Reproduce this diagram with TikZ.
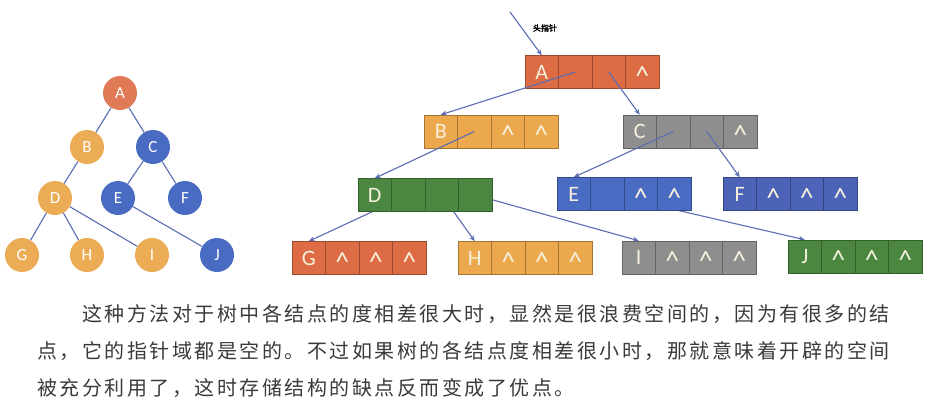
\documentclass[tikz,border=0pt]{standalone}
\usepackage{fontspec}
\usetikzlibrary{arrows.meta}
\usetikzlibrary{backgrounds}

\newfontfamily\cellfont{Carlito}
\newfontfamily\cjk[LetterSpace=12.5]{Noto Sans CJK SC}
\newfontfamily\cjkhead[FakeBold=2]{Noto Sans CJK SC}

\definecolor{rustred}{HTML}{DD6B43}
\definecolor{amber}{HTML}{EBA84C}
\definecolor{slate}{HTML}{8E8E8E}
\definecolor{leaf}{HTML}{4B8740}
\definecolor{ocean}{HTML}{4A6BC2}
\definecolor{indigo}{HTML}{4D63B8}
\definecolor{linkblue}{HTML}{5A6CB4}
\definecolor{cream}{HTML}{F6F0DC}
\definecolor{inkgray}{HTML}{3A3A3A}

\tikzset{
  cell/.style={rectangle, fill=#1, draw=#1!70!black, line width=0.5pt,
    minimum width=33.5pt, minimum height=33pt, inner sep=0pt,
    text height=14pt, text depth=0pt,
    text=cream, font=\cellfont\fontsize{22}{22}\selectfont},
  treenode/.style={circle, fill=#1, minimum size=34pt, inner sep=0pt,
    text=white, font=\cellfont\fontsize{17}{17}\selectfont},
  edge/.style={draw=linkblue, line width=1.1pt},
  ptr/.style={draw=linkblue, line width=1.1pt, -{Stealth[length=6pt,width=5pt]}},
  para/.style={anchor=base west, inner sep=0pt, text=inkgray,
    font=\cjk\fontsize{20}{20}\selectfont},
}

% empty pointer field
\newcommand\emptyptr{\raisebox{-6pt}{\fontsize{28}{28}\selectfont\textasciicircum}}

% one linked record: name, left edge, centre y, colour, four fields
\newcommand\listrec[5]{%
  \foreach \f [count=\k] in {#5}
    \node[cell=#4] (#1\k) at ({#2+(\k-0.5)*33.5}, #3) {\f};
}

\begin{document}
\begin{tikzpicture}[x=1pt, y=-1pt]
\useasboundingbox (0,0) rectangle (936,402);

% the tree
\node[treenode={rustred!90!white}] (ta) at (120,93) {A};
\node[treenode={amber!95!white}] (tb) at (87,147) {B};
\node[treenode=ocean] (tc) at (153,147) {C};
\node[treenode={amber!95!white}] (td) at (55,198) {D};
\node[treenode=ocean] (te) at (118,198) {E};
\node[treenode=ocean] (tf) at (185,198) {F};
\node[treenode={amber!95!white}] (tg) at (22,255) {G};
\node[treenode={amber!95!white}] (th) at (87,255) {H};
\node[treenode={amber!95!white}] (ti) at (152,255) {I};
\node[treenode=ocean] (tj) at (217,255) {J};
\draw[edge] (ta) -- (tb);
\draw[edge] (ta) -- (tc);
\draw[edge] (tb) -- (td);
\draw[edge] (tc) -- (te);
\draw[edge] (tc) -- (tf);
\draw[edge] (td) -- (tg);
\draw[edge] (td) -- (th);
\draw[edge] (td) -- (ti);
\draw[edge] (te) -- (tj);

% the linked records
\listrec{A}{525}{72}{rustred}{A,{},{},\emptyptr}
\listrec{B}{424}{131.5}{amber}{B,{},\emptyptr,\emptyptr}
\listrec{C}{623}{131.5}{slate}{C,{},{},\emptyptr}
\listrec{D}{358}{195}{leaf}{D,{},{},{}}
\listrec{E}{557}{194}{ocean}{E,{},\emptyptr,\emptyptr}
\listrec{F}{723}{194}{indigo}{F,\emptyptr,\emptyptr,\emptyptr}
\listrec{G}{292}{258}{rustred}{G,\emptyptr,\emptyptr,\emptyptr}
\listrec{H}{458}{258}{amber}{H,\emptyptr,\emptyptr,\emptyptr}
\listrec{I}{622}{257.5}{slate}{I,\emptyptr,\emptyptr,\emptyptr}
\listrec{J}{788}{256.5}{leaf}{J,\emptyptr,\emptyptr,\emptyptr}

% head pointer
\coordinate (head) at (510,12);
\node[font=\cjkhead\fontsize{8}{8}\selectfont] (headlabel) at (545,28) {头指针};
\draw[ptr] (head) -- (A1.north);

\draw[ptr] (A2.center) -- (B1.north);
\draw[ptr] (A3.center) -- (C1.north);
\draw[ptr] (B2.center) -- (D1.north);
\draw[ptr] (C2.center) -- (E1.north);
\draw[ptr] (C3.center) -- (F1.north);
\begin{scope}[on background layer]
  \draw[ptr] (D2.center) -- (G1.north);
  \draw[ptr] (D3.center) -- (H1.north);
  \draw[ptr] (D4.center) -- (I1.north);
  \draw[ptr] (E2.center) -- (J1.north);
\end{scope}

% the text below
\node[para] (line1) at (82,321) {这种方法对于树中各结点的度相差很大时，显然是很浪费空间的，因为有很多的结};
\node[para] (line2) at (37,358) {点，它的指针域都是空的。不过如果树的各结点度相差很小时，那就意味着开辟的空间};
\node[para] (line3) at (37,395) {被充分利用了，这时存储结构的缺点反而变成了优点。};
\end{tikzpicture}
\end{document}
